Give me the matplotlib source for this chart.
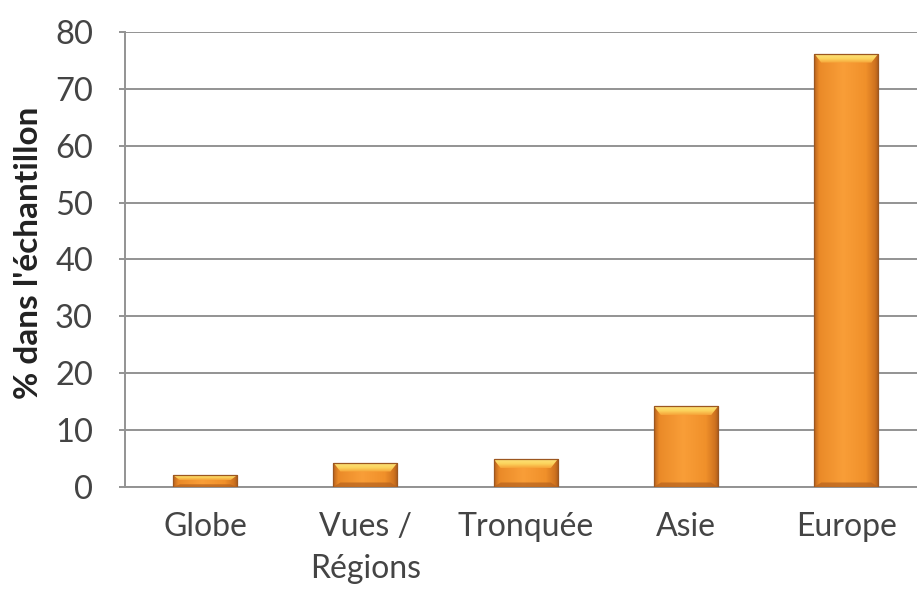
import numpy as np
import matplotlib.pyplot as plt
from matplotlib.colors import LinearSegmentedColormap
from matplotlib.patches import Polygon

# data
categories = ['Globe', 'Vues /\nRégions', 'Tronquée', 'Asie', 'Europe']
values = [2.1, 4.3, 4.9, 14.2, 76.2]
yticks = [0, 10, 20, 30, 40, 50, 60, 70, 80]

plt.rcParams['font.family'] = ['Lato', 'DejaVu Sans']

fig = plt.figure(figsize=(9.17, 5.89), dpi=100)
# plot area runs a bit past the right edge of the figure
ax = fig.add_axes([0.1363, 0.1732, 0.874, 0.7725])

x = np.arange(len(categories))
bars = ax.bar(x, values, width=0.4, color='#F29330', edgecolor='none', zorder=3)

ax.set_xlim(-0.5, len(categories) - 0.5)
ax.set_ylim(0, 80)
ax.set_yticks(yticks)
ax.set_xticks(x)
ax.set_xticklabels(categories)

# gridlines and axes in grey
ax.grid(axis='y', color='#939393', linewidth=1.4, zorder=0)
for s in ['top', 'right']:
    ax.spines[s].set_visible(False)
for s in ['left', 'bottom']:
    ax.spines[s].set_color('#939393')
    ax.spines[s].set_linewidth(1.4)
ax.tick_params(axis='y', length=4, width=1.4, color='#939393', pad=19,
               labelsize=23.5, labelcolor='#444444')
ax.tick_params(axis='x', length=0, pad=18, labelsize=23, labelcolor='#444444')
for lab in ax.get_xticklabels():
    lab.set_linespacing(1.5)
    lab.set_verticalalignment('top')

ax.set_ylabel("% dans l'échantillon", fontsize=24, fontweight='bold', color='#222222')
ax.yaxis.set_label_coords(-0.102, 0.515)

# bevelled look: horizontal shading plus lighter/darker edges
shade = LinearSegmentedColormap.from_list('shade', [
    (0.0, '#B9621E'), (0.08, '#EA8A28'), (0.45, '#F99E38'),
    (0.8, '#F0902A'), (0.94, '#D0731F'), (1.0, '#A85A1C')])
grad = np.linspace(0, 1, 256).reshape(1, -1)
topgrad = LinearSegmentedColormap.from_list('top', ['#F6A238', '#FCD55E', '#FDE27A'])
vgrad = np.linspace(0, 1, 64).reshape(-1, 1)

fig.canvas.draw()
inv = ax.transData.inverted()
p0 = inv.transform((0, 0))
p1 = inv.transform((7, 9))
dx = p1[0] - p0[0]
dy = p1[1] - p0[1]

for b in bars:
    x0 = b.get_x()
    w = b.get_width()
    h = b.get_height()
    x1 = x0 + w
    im = ax.imshow(grad, cmap=shade, aspect='auto', extent=(x0, x1, 0, h), zorder=3.5)
    im.set_clip_path(b)
    d = min(dy, h / 2.2)
    top = Polygon([(x0, h), (x1, h), (x1 - dx, h - d), (x0 + dx, h - d)],
                  closed=True, facecolor='none', edgecolor='none', zorder=4)
    ax.add_patch(top)
    tim = ax.imshow(vgrad, cmap=topgrad, aspect='auto', origin='lower',
                    extent=(x0, x1, h - d, h), zorder=4)
    tim.set_clip_path(top)
    bot = Polygon([(x0, 0), (x1, 0), (x1 - dx, d * 0.5), (x0 + dx, d * 0.5)],
                  closed=True, facecolor='#B8641F', edgecolor='none', alpha=0.75, zorder=4)
    ax.add_patch(bot)
    ax.add_patch(plt.Rectangle((x0, 0), w, h, fill=False, edgecolor='#9C5720',
                               linewidth=0.9, zorder=4.5))

ax.set_xlim(-0.5, len(categories) - 0.5)
ax.set_ylim(0, 80)

fig.savefig('out.png', dpi=100)
